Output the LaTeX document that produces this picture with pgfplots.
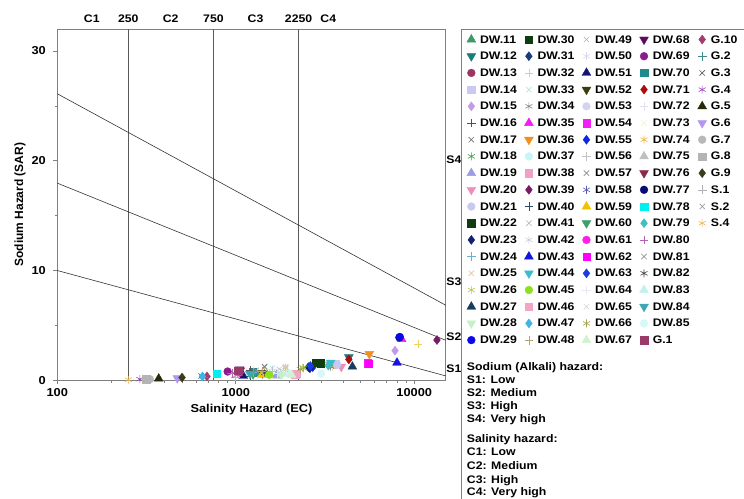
\documentclass[border=0pt]{standalone}
\usepackage{pgfplots}
\pgfplotsset{compat=1.18}
\usepackage{fontspec}
\setmainfont{Liberation Sans}[FakeStretch=1.12]
\newfontfamily\yfont{Liberation Sans}
\definecolor{c11}{HTML}{3A9A6A}\definecolor{c12}{HTML}{1E7B7B}\definecolor{c13}{HTML}{9C3562}
\definecolor{c14}{HTML}{C9C9F2}\definecolor{c15}{HTML}{C49AE6}\definecolor{c16}{HTML}{505050}
\definecolor{c17}{HTML}{707070}\definecolor{c18}{HTML}{3C9E3C}\definecolor{c19}{HTML}{9C9CE6}
\definecolor{c20}{HTML}{F08CB8}\definecolor{c21}{HTML}{C8C8F0}\definecolor{c22}{HTML}{0F3D0F}
\definecolor{c23}{HTML}{12206E}\definecolor{c24}{HTML}{6EAED6}\definecolor{c25}{HTML}{D6C7A0}
\definecolor{c26}{HTML}{B5C24A}\definecolor{c27}{HTML}{1A3C5C}\definecolor{c28}{HTML}{C6F0C6}
\definecolor{c29}{HTML}{0A0AE6}\definecolor{c30}{HTML}{0F3D0F}\definecolor{c31}{HTML}{1A3C78}
\definecolor{c32}{HTML}{F2D060}\definecolor{c33}{HTML}{9EE0E0}\definecolor{c34}{HTML}{8A8A8A}
\definecolor{c35}{HTML}{F01EF0}\definecolor{c36}{HTML}{F0901E}\definecolor{c37}{HTML}{C6F6F6}
\definecolor{c38}{HTML}{F0A0C8}\definecolor{c39}{HTML}{781A66}\definecolor{c40}{HTML}{2A4A6A}
\definecolor{c41}{HTML}{B4B4B4}\definecolor{c42}{HTML}{C4CCE6}\definecolor{c43}{HTML}{1414E0}
\definecolor{c44}{HTML}{3CBCCC}\definecolor{c45}{HTML}{8CE01E}\definecolor{c46}{HTML}{F2A6C6}
\definecolor{c47}{HTML}{3CB4E6}\definecolor{c48}{HTML}{B4A474}\definecolor{c49}{HTML}{C0B090}
\definecolor{c50}{HTML}{D8D8F2}\definecolor{c51}{HTML}{141478}\definecolor{c52}{HTML}{3C3C0F}
\definecolor{c53}{HTML}{D2D2F2}\definecolor{c54}{HTML}{F41EF4}\definecolor{c55}{HTML}{0A28E6}
\definecolor{c56}{HTML}{C2C2C2}\definecolor{c57}{HTML}{8C8C8C}\definecolor{c58}{HTML}{5A5AB4}
\definecolor{c59}{HTML}{F2C200}\definecolor{c60}{HTML}{3CA06C}\definecolor{c61}{HTML}{FF1EE6}
\definecolor{c62}{HTML}{FF00FF}\definecolor{c63}{HTML}{1A3CE6}\definecolor{c64}{HTML}{E8E8F2}
\definecolor{c65}{HTML}{D0D0D0}\definecolor{c66}{HTML}{A4A450}\definecolor{c67}{HTML}{D0F2D0}
\definecolor{c68}{HTML}{5C0A5C}\definecolor{c69}{HTML}{8C1A8C}\definecolor{c70}{HTML}{1E8C8C}
\definecolor{c71}{HTML}{B00A0A}\definecolor{c72}{HTML}{E0E0F2}\definecolor{c73}{HTML}{F6EEC0}
\definecolor{c74}{HTML}{F0B43C}\definecolor{c75}{HTML}{C0C0C0}\definecolor{c76}{HTML}{8C2A4C}
\definecolor{c77}{HTML}{0A0A78}\definecolor{c78}{HTML}{00F0F0}\definecolor{c79}{HTML}{3CC0C0}
\definecolor{c80}{HTML}{B464B4}\definecolor{c81}{HTML}{8C8C8C}\definecolor{c82}{HTML}{444444}
\definecolor{c83}{HTML}{C6F0F0}\definecolor{c84}{HTML}{3CA8B4}\definecolor{c85}{HTML}{D6F8F8}
\definecolor{cG1}{HTML}{9A3A6A}\definecolor{cG10}{HTML}{A43C6C}\definecolor{cG2}{HTML}{3C8C8C}
\definecolor{cG3}{HTML}{555555}\definecolor{cG4}{HTML}{A040C0}\definecolor{cG5}{HTML}{2A2A0A}
\definecolor{cG6}{HTML}{B496F0}\definecolor{cG7}{HTML}{B8B8B8}\definecolor{cG8}{HTML}{B4B4B4}
\definecolor{cG9}{HTML}{3C3C1A}\definecolor{cS1}{HTML}{B4B4B4}\definecolor{cS2}{HTML}{8C8C8C}
\definecolor{cS4}{HTML}{F0B450}
\pgfplotsset{
  tu/.style={only marks,mark=triangle*,mark size=5.1bp},
  td/.style={only marks,mark=triangle*,mark size=5.1bp,mark options={rotate=180}},
  ci/.style={only marks,mark=*,mark size=3.9bp},
  sq/.style={only marks,mark=square*,mark size=3.7bp},
  di/.style={only marks,mark=diamond*,mark size=4.5bp},
  pl/.style={only marks,mark=+,mark size=4.4bp,line width=0.6bp},
  xx/.style={only marks,mark=x,mark size=3.8bp,line width=0.6bp},
  as/.style={only marks,mark=asterisk,mark size=4bp,line width=0.6bp},
}
\newcommand{\lf}{\fontsize{11}{13}\selectfont\bfseries}
\begin{document}
\begin{tikzpicture}
\useasboundingbox (0bp,0bp) rectangle (744bp,499bp);
\clip (0bp,0bp) rectangle (744bp,499bp);
\begin{axis}[
  at={(57.3bp,118.7bp)}, anchor=south west,
  scale only axis, width=388.4bp, height=351.3bp,
  xmode=log, xmin=100, xmax=15000, ymin=0, ymax=32,
  log ticks with fixed point, /pgf/number format/1000 sep={},
  /pgf/number format/assume math mode=true,
  xtick={100,1000,10000},
  minor xtick={200,300,400,500,600,700,800,900,2000,3000,4000,5000,6000,7000,8000,9000},
  ytick={0,10,20,30}, minor ytick={5,15,25},
  xtick pos=left, ytick pos=left, tick align=outside,
  major tick length=4bp, minor tick length=2.5bp,
  axis line style={draw=gray, line width=0.8bp},
  tick style={draw=gray, line width=0.6bp},
  tick label style={font=\fontsize{11.5}{13}\selectfont\bfseries},
  yticklabel style={xshift=-4bp},
  xticklabel style={yshift=-1bp},
  xlabel={Salinity Hazard (EC)}, ylabel={Sodium Hazard (SAR)},
  xlabel style={font=\fontsize{11.5}{13}\selectfont\bfseries},
  ylabel style={font=\fontsize{12}{13}\yfont\bfseries, yshift=-1bp},
  clip=false,
  legend columns=5, legend cell align=left,
  legend image code/.code={\draw[mark repeat=2,mark phase=2,#1] plot coordinates {(0bp,0bp) (5bp,0bp) (10bp,0bp)};},
  legend style={draw=none, fill=none, inner sep=0pt, at={(1.0541,0.9863)}, anchor=north west,
    font=\lf, nodes={inner sep=1bp, text height=8bp, text depth=1bp, anchor=west},
    row sep=5.7bp,
    /tikz/every odd column/.append style={column sep=3.3bp},
    /tikz/every even column/.append style={column sep=6.6bp}},
]
% classification lines
\addplot[gray!70!black, line width=0.7bp, forget plot] coordinates {(250,0) (250,32)};
\addplot[gray!70!black, line width=0.7bp, forget plot] coordinates {(750,0) (750,32)};
\addplot[gray!70!black, line width=0.7bp, forget plot] coordinates {(2250,0) (2250,32)};
\addplot[black!80, line width=0.6bp, forget plot] coordinates {(100,26.1) (15000,6.84)};
\addplot[black!80, line width=0.6bp, forget plot] coordinates {(100,17.96) (15000,3.65)};
\addplot[black!80, line width=0.6bp, forget plot] coordinates {(100,10) (15000,0.4)};
% row 1
\addplot[tu,color=c11] coordinates {(1300,0.6)}; \addlegendentry{DW.11}
\addplot[sq,color=c30] coordinates {(3000,1.55)}; \addlegendentry{DW.30}
\addplot[xx,color=c49] coordinates {(1900,1.2)}; \addlegendentry{DW.49}
\addplot[td,color=c68] coordinates {(1050,1.0)}; \addlegendentry{DW.68}
\addplot[di,color=cG10] coordinates {(690,0.35)}; \addlegendentry{G.10}
% row 2
\addplot[td,color=c12] coordinates {(4300,2.1)}; \addlegendentry{DW.12}
\addplot[di,color=c31] coordinates {(2550,1.2)}; \addlegendentry{DW.31}
\addplot[as,color=c50] coordinates {(1150,0.7)}; \addlegendentry{DW.50}
\addplot[ci,color=c69] coordinates {(900,0.8)}; \addlegendentry{DW.69}
\addplot[pl,color=cG2] coordinates {(660,0.3)}; \addlegendentry{G.2}
% row 3
\addplot[ci,color=c13] coordinates {(1050,0.8)}; \addlegendentry{DW.13}
\addplot[pl,color=c32] coordinates {(10500,3.3)}; \addlegendentry{DW.32}
\addplot[tu,color=c51] coordinates {(1100,0.4)}; \addlegendentry{DW.51}
\addplot[sq,color=c70] coordinates {(1240,0.75)}; \addlegendentry{DW.70}
\addplot[xx,color=cG3] coordinates {(640,0.4)}; \addlegendentry{G.3}
% row 4
\addplot[sq,color=c14] coordinates {(3600,1.5)}; \addlegendentry{DW.14}
\addplot[xx,color=c33] coordinates {(1600,1.1)}; \addlegendentry{DW.33}
\addplot[td,color=c52] coordinates {(1410,0.65)}; \addlegendentry{DW.52}
\addplot[di,color=c71] coordinates {(4300,1.9)}; \addlegendentry{DW.71}
\addplot[as,color=cG4] coordinates {(290,0.1)}; \addlegendentry{G.4}
% row 5
\addplot[di,color=c15] coordinates {(7800,2.7)}; \addlegendentry{DW.15}
\addplot[as,color=c34] coordinates {(3300,1.5)}; \addlegendentry{DW.34}
\addplot[ci,color=c53] coordinates {(3650,1.45)}; \addlegendentry{DW.53}
\addplot[pl,color=c72] coordinates {(1600,1.0)}; \addlegendentry{DW.72}
\addplot[tu,color=cG5] coordinates {(370,0.15)}; \addlegendentry{G.5}
% row 6
\addplot[pl,color=c16] coordinates {(1200,0.9)}; \addlegendentry{DW.16}
\addplot[tu,color=c35] coordinates {(8500,3.75)}; \addlegendentry{DW.35}
\addplot[sq,color=c54] coordinates {(5500,1.55)}; \addlegendentry{DW.54}
\addplot[xx,color=c73] coordinates {(1500,0.9)}; \addlegendentry{DW.73}
\addplot[td,color=cG6] coordinates {(470,0.2)}; \addlegendentry{G.6}
% row 7
\addplot[xx,color=c17] coordinates {(1450,1.25)}; \addlegendentry{DW.17}
\addplot[td,color=c36] coordinates {(5600,2.4)}; \addlegendentry{DW.36}
\addplot[di,color=c55] coordinates {(2700,1.2)}; \addlegendentry{DW.55}
\addplot[as,color=c74] coordinates {(3500,1.2)}; \addlegendentry{DW.74}
\addplot[ci,color=cG7] coordinates {(330,0.1)}; \addlegendentry{G.7}
% row 8
\addplot[as,color=c18] coordinates {(2400,1.1)}; \addlegendentry{DW.18}
\addplot[ci,color=c37] coordinates {(2000,0.6)}; \addlegendentry{DW.37}
\addplot[pl,color=c56] coordinates {(1600,0.8)}; \addlegendentry{DW.56}
\addplot[tu,color=c75] coordinates {(1710,0.4)}; \addlegendentry{DW.75}
\addplot[sq,color=cG8] coordinates {(315,0.1)}; \addlegendentry{G.8}
% row 9
\addplot[tu,color=c19] coordinates {(1700,0.5)}; \addlegendentry{DW.19}
\addplot[sq,color=c38] coordinates {(2180,0.6)}; \addlegendentry{DW.38}
\addplot[xx,color=c57] coordinates {(1450,1.2)}; \addlegendentry{DW.57}
\addplot[td,color=c76] coordinates {(1060,0.9)}; \addlegendentry{DW.76}
\addplot[di,color=cG9] coordinates {(500,0.25)}; \addlegendentry{G.9}
% row 10
\addplot[td,color=c20] coordinates {(3900,1.24)}; \addlegendentry{DW.20}
\addplot[di,color=c39] coordinates {(13400,3.67)}; \addlegendentry{DW.39}
\addplot[as,color=c58] coordinates {(3400,1.25)}; \addlegendentry{DW.58}
\addplot[ci,color=c77] coordinates {(8250,3.9)}; \addlegendentry{DW.77}
\addplot[pl,color=cS1] coordinates {(1000,0.3)}; \addlegendentry{S.1}
% row 11
\addplot[ci,color=c21] coordinates {(3700,1.4)}; \addlegendentry{DW.21}
\addplot[pl,color=c40] coordinates {(1200,0.4)}; \addlegendentry{DW.40}
\addplot[tu,color=c59] coordinates {(1400,0.5)}; \addlegendentry{DW.59}
\addplot[sq,color=c78] coordinates {(780,0.6)}; \addlegendentry{DW.78}
\addplot[xx,color=cS2] coordinates {(1000,0.5)}; \addlegendentry{S.2}
% row 12
\addplot[sq,color=c22] coordinates {(2800,1.6)}; \addlegendentry{DW.22}
\addplot[xx,color=c41] coordinates {(1800,0.9)}; \addlegendentry{DW.41}
\addplot[td,color=c60] coordinates {(1250,0.55)}; \addlegendentry{DW.60}
\addplot[di,color=c79] coordinates {(3300,1.35)}; \addlegendentry{DW.79}
\addplot[as,color=cS4] coordinates {(250,0.05)}; \addlegendentry{S.4}
% row 13
\addplot[di,color=c23] coordinates {(2600,1.1)}; \addlegendentry{DW.23}
\addplot[as,color=c42] coordinates {(1900,1.15)}; \addlegendentry{DW.42}
\addplot[ci,color=c61] coordinates {(1050,0.7)}; \addlegendentry{DW.61}
\addplot[pl,color=c80] coordinates {(950,0.6)}; \addlegendentry{DW.80}
\addlegendimage{empty legend}\addlegendentry{}
% row 14
\addplot[pl,color=c24] coordinates {(1250,0.7)}; \addlegendentry{DW.24}
\addplot[tu,color=c43] coordinates {(8000,1.6)}; \addlegendentry{DW.43}
\addplot[sq,color=c62] coordinates {(5550,1.5)}; \addlegendentry{DW.62}
\addplot[xx,color=c81] coordinates {(1300,0.9)}; \addlegendentry{DW.81}
\addlegendimage{empty legend}\addlegendentry{}
% row 15
\addplot[xx,color=c25] coordinates {(1900,1.0)}; \addlegendentry{DW.25}
\addplot[td,color=c44] coordinates {(3400,1.6)}; \addlegendentry{DW.44}
\addplot[di,color=c63] coordinates {(2620,1.3)}; \addlegendentry{DW.63}
\addplot[as,color=c82] coordinates {(1450,0.7)}; \addlegendentry{DW.82}
\addlegendimage{empty legend}\addlegendentry{}
% row 16
\addplot[as,color=c26] coordinates {(2370,1.15)}; \addlegendentry{DW.26}
\addplot[ci,color=c45] coordinates {(1540,0.5)}; \addlegendentry{DW.45}
\addplot[pl,color=c64] coordinates {(1700,0.6)}; \addlegendentry{DW.64}
\addplot[tu,color=c83] coordinates {(1820,0.6)}; \addlegendentry{DW.83}
\addlegendimage{empty legend}\addlegendentry{}
% row 17
\addplot[tu,color=c27] coordinates {(4500,1.24)}; \addlegendentry{DW.27}
\addplot[sq,color=c46] coordinates {(2150,0.55)}; \addlegendentry{DW.46}
\addplot[xx,color=c65] coordinates {(1750,1.0)}; \addlegendentry{DW.65}
\addplot[td,color=c84] coordinates {(1200,0.6)}; \addlegendentry{DW.84}
\addlegendimage{empty legend}\addlegendentry{}
% row 18
\addplot[td,color=c28] coordinates {(1800,0.5)}; \addlegendentry{DW.28}
\addplot[di,color=c47] coordinates {(650,0.35)}; \addlegendentry{DW.47}
\addplot[as,color=c66] coordinates {(2300,1.0)}; \addlegendentry{DW.66}
\addplot[ci,color=c85] coordinates {(3010,0.6)}; \addlegendentry{DW.85}
\addlegendimage{empty legend}\addlegendentry{}
% row 19
\addplot[ci,color=c29] coordinates {(8300,3.95)}; \addlegendentry{DW.29}
\addplot[pl,color=c48] coordinates {(1400,0.8)}; \addlegendentry{DW.48}
\addplot[tu,color=c67] coordinates {(2050,0.5)}; \addlegendentry{DW.67}
\addplot[sq,color=cG1] coordinates {(1030,0.9)}; \addlegendentry{G.1}
% zone labels
\node[anchor=base, font=\lf, inner sep=0pt, yshift=6.5bp] at (axis cs:156,32) {C1};
\node[anchor=base, font=\lf, inner sep=0pt, yshift=6.5bp] at (axis cs:250,32) {250};
\node[anchor=base, font=\lf, inner sep=0pt, yshift=6.5bp] at (axis cs:432,32) {C2};
\node[anchor=base, font=\lf, inner sep=0pt, yshift=6.5bp] at (axis cs:750,32) {750};
\node[anchor=base, font=\lf, inner sep=0pt, yshift=6.5bp] at (axis cs:1290,32) {C3};
\node[anchor=base, font=\lf, inner sep=0pt, yshift=6.5bp] at (axis cs:2250,32) {2250};
\node[anchor=base, font=\lf, inner sep=0pt, yshift=6.5bp] at (axis cs:3300,32) {C4};
\node[anchor=west, font=\lf, inner sep=0.5bp] at (axis cs:15000,20.1) {S4};
\node[anchor=west, font=\lf, inner sep=0.5bp] at (axis cs:15000,8.96) {S3};
\node[anchor=west, font=\lf, inner sep=0.5bp] at (axis cs:15000,3.96) {S2};
\node[anchor=west, font=\lf, inner sep=0.5bp] at (axis cs:15000,1.05) {S1};
\end{axis}
\draw[gray, line width=0.8bp] (461bp,-10bp) rectangle (800bp,470bp);
\begin{scope}[every node/.style={anchor=base west, font=\lf, inner sep=0pt}]
\node at (466.7bp,128bp) {Sodium (Alkali) hazard:};
\node at (466.7bp,115.7bp) {S1: Low};
\node at (466.7bp,102.3bp) {S2: Medium};
\node at (466.7bp,89bp) {S3: High};
\node at (466.7bp,76bp) {S4: Very high};
\node at (466.7bp,56bp) {Salinity hazard:};
\node at (466.7bp,43bp) {C1: Low};
\node at (466.7bp,29.3bp) {C2: Medium};
\node at (466.7bp,16bp) {C3: High};
\node at (466.7bp,3.3bp) {C4: Very high};
\end{scope}
\end{tikzpicture}
\end{document}
